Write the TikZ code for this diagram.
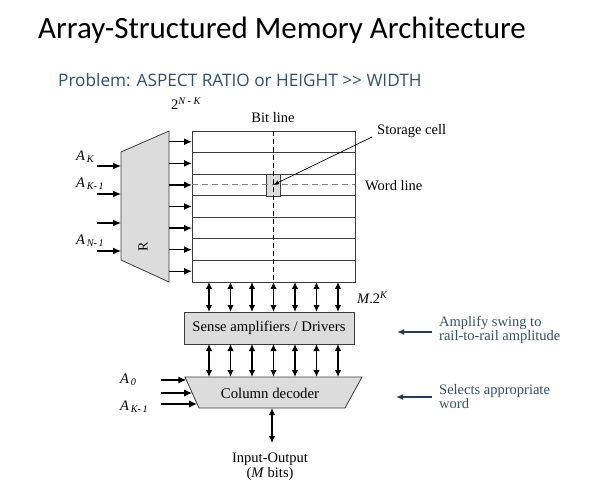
\documentclass[tikz,border=0pt]{standalone}
\usepackage{fontspec}
\setmainfont{Liberation Serif}
\newfontfamily\titlefont{Carlito}
\newfontfamily\subfont{Open Sans}
\usetikzlibrary{arrows.meta}
\definecolor{blockgray}{RGB}{220,220,220}
\definecolor{edgegray}{RGB}{60,60,60}
\definecolor{noteblue}{RGB}{55,80,105}
\definecolor{notearrow}{RGB}{40,62,80}
\definecolor{subblue}{RGB}{45,80,115}
% italic symbol with an italic subscript, set in the text font
\newcommand{\sig}[2]{\textit{#1}\textsubscript{\,\textit{#2}}}
\begin{document}
\begin{tikzpicture}[x=1pt,y=-1pt,
  block/.style={draw=edgegray,line width=0.8pt,fill=blockgray},
  rowline/.style={draw=edgegray,line width=0.8pt},
  arr/.style={line width=1.3pt,-{Latex[length=8pt,width=7pt]}},
  biarr/.style={line width=1.3pt,{Latex[length=7pt,width=6.5pt]}-{Latex[length=7pt,width=6.5pt]}},
  notearr/.style={draw=notearrow,line width=1.8pt,-{Latex[length=7pt,width=6pt]}},
  lbl/.style={font=\fontsize{14.5}{15}\selectfont,inner sep=0pt},
  note/.style={font=\fontsize{14.5}{14}\selectfont,text=noteblue,align=left,inner sep=0pt,anchor=north west}]
\useasboundingbox (0,0) rectangle (592,497);

% headings
\node[font=\titlefont\fontsize{31}{34}\selectfont] (title) at (282,30) {Array-Structured Memory Architecture};
\node[font=\subfont\fontsize{17.2}{19}\selectfont,text=subblue,anchor=west,inner sep=0pt] (subtitle) at (58,80) {Problem: ASPECT RATIO or HEIGHT >{}> WIDTH};

% row decoder
\draw[block] (121,152) -- (169,131) -- (169,282) -- (121,260) -- cycle;
\node[lbl,rotate=90,font=\fontsize{14}{14}\selectfont] (rdec) at (143,247) {R};

% memory array
\node[rowline,minimum width=163pt,minimum height=151pt,inner sep=0pt] (array) at (273.5,206.5) {};
\foreach \i in {1,...,6}
  \draw[rowline] (192,131+\i*21.57) -- (355,131+\i*21.57);
\node[block,line width=0.7pt,minimum width=14pt,minimum height=22pt,inner sep=0pt] (cell) at (273,185) {};
\draw[dashed,dash pattern=on 5pt off 3pt,line width=0.7pt] (273.7,131) -- (273.7,282);
\draw[gray,dashed,dash pattern=on 6pt off 4pt,line width=0.8pt] (192,184.7) -- (355,184.7);

% word lines driven by the row decoder
\foreach \i in {0,...,6} {
  \coordinate (wsrc\i) at (169,141.8+\i*21.57);
  \coordinate (wdst\i) at (192,141.8+\i*21.57);
  \draw[arr] (wsrc\i) -- (wdst\i);
}

% row address inputs
\foreach \y/\n in {166/a,194/b,223/c,251/d} {
  \coordinate (in\n) at (97,\y);
  \coordinate (rin\n) at (121,\y);
  \draw[arr] (in\n) -- (rin\n);
}
\node[lbl,anchor=west] (ak) at (76,157) {\sig{A}{K}};
\node[lbl,anchor=west] (ak1) at (76,184) {\sig{A}{K-\,1}};
\node[lbl,anchor=west] (an1) at (76,241) {\sig{A}{N-\,1}};

% array labels
\node[lbl,anchor=west] (twonk) at (171,104) {2\textsuperscript{\textit{N - K}}};
\node[lbl] (bitline) at (273,118) {Bit line};
\node[lbl,anchor=west] (storage) at (377,131) {Storage cell};
\node[lbl,anchor=west] (wordline) at (365,186) {Word line};
\coordinate (stsrc) at (372,137);
\draw[line width=0.7pt,-{Latex[length=6pt,width=4pt]}] (stsrc) -- (cell.center);

% sense amplifiers
\node[block,minimum width=170pt,minimum height=32pt,inner sep=0pt,font=\fontsize{14.7}{15}\selectfont] (sense) at (269,328) {Sense amplifiers / Drivers};
\foreach \i in {0,...,6} {
  \coordinate (bt\i) at (209+\i*21.5,282);
  \coordinate (sb\i) at (209+\i*21.5,312);
  \coordinate (st\i) at (209+\i*21.5,344);
  \coordinate (cb\i) at (209+\i*21.5,377);
  \draw[biarr] (bt\i) -- (sb\i);
  \draw[biarr] (st\i) -- (cb\i);
}
\node[lbl,anchor=west] (m2k) at (357,298) {\textit{M}.2\textsuperscript{\textit{K}}};

% column decoder
\draw[block] (185,377) -- (362,377) -- (345,408) -- (199,408) -- cycle;
\node[lbl,font=\fontsize{14.8}{15}\selectfont] (coldec) at (270,393) {Column decoder};
\foreach \y/\n in {380/a,393/b,404/c} {
  \coordinate (cin\n) at (161,\y);
  \coordinate (cdst\n) at ({185+(\y-377)*14/31},\y);
  \draw[arr] (cin\n) -- (cdst\n);
}
\node[lbl,anchor=west] (a0) at (120,380) {\sig{A}{0}};
\node[lbl,anchor=west] (ak1b) at (120,407) {\sig{A}{K-\,1}};

% data port
\coordinate (iotop) at (272,408);
\coordinate (iobot) at (272,443);
\draw[biarr] (iotop) -- (iobot);
\node[lbl,align=center,font=\fontsize{14.5}{15}\selectfont] (io) at (270,467) {Input-Output\\(\textit{M} bits)};

% annotations
\coordinate (n1a) at (432,332);
\coordinate (n1b) at (397,332);
\draw[notearr] (n1a) -- (n1b);
\node[note] (amp) at (439,316) {Amplify swing to\\rail-to-rail amplitude};
\coordinate (n2a) at (432,397);
\coordinate (n2b) at (396,397);
\draw[notearr] (n2a) -- (n2b);
\node[note] (sel) at (439,384) {Selects appropriate\\word};
\end{tikzpicture}
\end{document}
